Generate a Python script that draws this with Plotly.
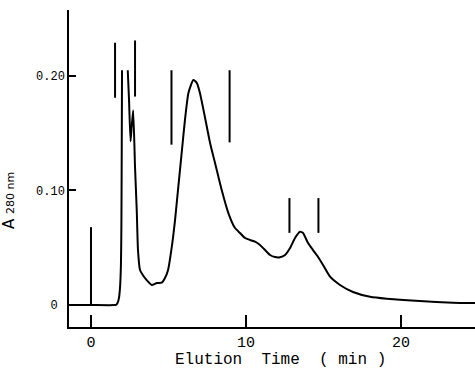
import plotly.graph_objects as go

# Elution profile (time in min, absorbance at 280 nm); None marks the off-scale gap
time_min = [-1.42, 0.0, 1.55, 1.65, 1.72, 1.8, 1.87, 1.93, 1.96, 1.98, 2.0,
            None,
            2.37, 2.45, 2.55, 2.62, 2.72, 2.84, 2.95, 3.03, 3.16, 3.35, 3.59, 3.92,
            4.24, 4.56, 4.77, 4.97, 5.21, 5.42, 5.63, 5.85, 6.06, 6.28, 6.6, 6.82,
            7.03, 7.35, 7.68, 8.0, 8.43, 8.86, 9.29, 9.61, 9.94, 10.26, 10.58,
            10.9, 11.23, 11.55, 11.87, 12.19, 12.52, 12.84, 13.16, 13.48, 13.68,
            14.0, 14.32, 14.65, 14.97, 15.42, 16.06, 16.9, 18.0, 19.08, 21.2,
            23.35, 24.77]
absorbance = [0.0, 0.0, 0.0, 0.0005, 0.002, 0.006, 0.015, 0.035, 0.07, 0.13, 0.205,
              None,
              0.205, 0.18, 0.143, 0.155, 0.170, 0.12, 0.083, 0.048, 0.0306, 0.026,
              0.0218, 0.0175, 0.0192, 0.0195, 0.0236, 0.0306, 0.0507, 0.0742, 0.103,
              0.133, 0.1616, 0.185, 0.1965, 0.194, 0.185, 0.164, 0.1415, 0.124,
              0.1004, 0.0803, 0.0672, 0.0629, 0.0585, 0.0568, 0.0553, 0.0524, 0.048,
              0.0437, 0.0419, 0.0417, 0.0437, 0.0498, 0.0585, 0.064, 0.0629, 0.0541,
              0.048, 0.0419, 0.0349, 0.0247, 0.0175, 0.0114, 0.0072, 0.0055, 0.0035,
              0.002, 0.0017]

# Fraction / injection marker lines (time, lower A, upper A)
marker_times = [0.0, 1.55, 2.84, 5.19, 8.94, 12.8, 14.67]
marker_low = [0.0, 0.181, 0.182, 0.140, 0.142, 0.063, 0.063]
marker_high = [0.068, 0.229, 0.231, 0.205, 0.205, 0.0934, 0.0934]

x_ticks = [0, 10, 20]
y_ticks = [0, 0.10, 0.20]
y_tick_labels = ["0\u00a0", "0.10", "0.20"]

mx, my = [], []
for t, lo, hi in zip(marker_times, marker_low, marker_high):
    mx += [t, t, None]
    my += [lo, hi, None]

fig = go.Figure()
fig.add_trace(go.Scatter(x=time_min, y=absorbance, mode="lines",
                         line=dict(color="black", width=2, shape="spline", smoothing=0.5),
                         connectgaps=False, hoverinfo="skip"))
fig.add_trace(go.Scatter(x=mx, y=my, mode="lines",
                         line=dict(color="black", width=2), hoverinfo="skip"))

mono = "Liberation Mono, DejaVu Sans Mono, monospace"
fig.update_layout(
    width=475, height=377,
    margin=dict(l=69, r=0, t=10, b=50),
    paper_bgcolor="white", plot_bgcolor="white",
    showlegend=False,
    xaxis=dict(range=[-1.42, 24.77], tickvals=x_ticks, ticktext=[str(v) for v in x_ticks],
               ticks="inside", ticklen=12, tickwidth=1.5, tickcolor="black",
               showline=True, linecolor="black", linewidth=1.5,
               showgrid=False, zeroline=False,
               tickfont=dict(family=mono, size=15, color="black")),
    yaxis=dict(range=[-0.0192, 0.2576], tickvals=y_ticks, ticktext=y_tick_labels,
               ticks="inside", ticklen=7, tickwidth=1.5, tickcolor="black",
               showline=True, linecolor="black", linewidth=1.5,
               showgrid=False, zeroline=False,
               tickfont=dict(family=mono, size=12, color="black")),
    annotations=[
        dict(text="Elution  Time  ( min )", xref="paper", yref="paper",
             x=(280 - 69) / 406, y=-33 / 317, xanchor="center", yanchor="middle",
             showarrow=False, font=dict(family=mono, size=16, color="black")),
        dict(text="A <span style='font-size:11px'>280 nm</span>", xref="paper", yref="paper",
             x=-60 / 406, y=(327 - 200) / 317, xanchor="center", yanchor="middle",
             textangle=-90, showarrow=False,
             font=dict(family="DejaVu Sans, sans-serif", size=15, color="black")),
    ],
)

fig.write_html("out.html")
